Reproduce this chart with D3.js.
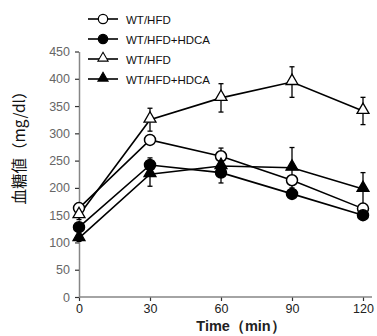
<!DOCTYPE html>
<html>
<head>
<meta charset="utf-8">
<script src="https://cdn.jsdelivr.net/npm/d3@7"></script>
<style>
  body { margin: 0; background: #fff; }
  svg { font-family: Arial, "Liberation Sans", sans-serif; }
</style>
</head>
<body>
<svg id="chart" width="377" height="336"></svg>
<script>
// data
const times = [0, 30, 60, 90, 120];
const yTicks = [0, 50, 100, 150, 200, 250, 300, 350, 400, 450];
const seriesNames = ["WT/HFD", "WT/HFD+HDCA", "WT/HFD", "WT/HFD+HDCA"];
const seriesShapes = ["circle", "circle", "triangle", "triangle"];
const seriesFilled = [false, true, false, true];
const openCircleMean = [163, 288, 258, 214, 162];
const openCircleErr = [6, 8, 15, 8, 6];
const filledCircleMean = [128, 242, 228, 189, 150];
const filledCircleErr = [6, 13, 19, 6, 6];
const openTriMean = [150, 325, 365, 394, 341];
const openTriErr = [8, 21, 26, 28, 25];
const filledTriMean = [108, 225, 240, 237, 198];
const filledTriErr = [6, 22, 10, 37, 30];

const means = [openCircleMean, filledCircleMean, openTriMean, filledTriMean];
const errs = [openCircleErr, filledCircleErr, openTriErr, filledTriErr];

const svg = d3.select("#chart");
const axisColor = "#868686";

const x = d3.scaleLinear().domain([0, 120]).range([79, 363]);
const y = d3.scaleLinear().domain([0, 450]).range([297, 51.5]);

// axes
const xAxis = svg.append("g")
    .attr("transform", `translate(0, ${y(0)})`)
    .call(d3.axisBottom(x).tickValues(times).tickSize(4).tickSizeOuter(0).tickPadding(3));
xAxis.select(".domain").remove();
xAxis.append("line")
    .attr("x1", x(0)).attr("x2", 372)
    .attr("stroke", axisColor).attr("stroke-width", 1.5);

const yAxis = svg.append("g")
    .attr("transform", `translate(${x(0)}, 0)`)
    .call(d3.axisLeft(y).tickValues(yTicks).tickSize(4).tickSizeOuter(0).tickPadding(5));
yAxis.select(".domain").attr("stroke", axisColor).attr("stroke-width", 1.5);

svg.selectAll(".tick line").attr("stroke", "#333").attr("stroke-width", 1.2);
xAxis.selectAll(".tick text").attr("font-size", 12.5).attr("fill", "#222");
yAxis.selectAll(".tick text").attr("font-size", 12.5).attr("fill", "#666");

// axis titles
svg.append("text")
    .attr("x", 241).attr("y", 331)
    .attr("text-anchor", "middle")
    .attr("font-size", 14.5).attr("font-weight", "bold")
    .attr("fill", "#222")
    .text("Time（min）");

svg.append("text")
    .attr("transform", "translate(25, 144) rotate(-90)")
    .attr("text-anchor", "middle")
    .attr("font-size", 15.5)
    .attr("font-family", "'Noto Sans CJK JP', sans-serif")
    .attr("fill", "#111")
    .text("血糖値（mg/dl）");

const line = d3.line().x((d, i) => x(times[i])).y(d => y(d));

const triangle = d3.symbol().type(d3.symbolTriangle).size(62);

function drawMarker(g, shape, filled) {
    if (shape === "circle") {
        g.append("circle").attr("r", 5.5)
            .attr("fill", filled ? "#000" : "#fff")
            .attr("stroke", "#000").attr("stroke-width", 1.5);
    } else {
        g.append("path").attr("d", triangle).attr("transform", "translate(0,-1)")
            .attr("fill", filled ? "#000" : "#fff")
            .attr("stroke", "#000").attr("stroke-width", 1.3);
    }
}

// series: error bars, then lines, then markers
means.forEach((m, s) => {
    const g = svg.append("g");
    g.selectAll("g.err")
        .data(m)
        .enter()
        .append("g")
        .each(function (d, i) {
            const e = errs[s][i];
            const gg = d3.select(this);
            gg.append("line")
                .attr("x1", x(times[i])).attr("x2", x(times[i]))
                .attr("y1", y(d - e)).attr("y2", y(d + e))
                .attr("stroke", "#000").attr("stroke-width", 1.3);
            [d - e, d + e].forEach(v => {
                gg.append("line")
                    .attr("x1", x(times[i]) - 2.5).attr("x2", x(times[i]) + 2.5)
                    .attr("y1", y(v)).attr("y2", y(v))
                    .attr("stroke", "#000").attr("stroke-width", 1.3);
            });
        });
    g.append("path")
        .attr("d", line(m))
        .attr("fill", "none")
        .attr("stroke", "#000")
        .attr("stroke-width", 1.6);
});
means.forEach((m, s) => {
    svg.append("g").selectAll("g")
        .data(m)
        .enter()
        .append("g")
        .attr("transform", (d, i) => `translate(${x(times[i])}, ${y(d)})`)
        .each(function () { drawMarker(d3.select(this), seriesShapes[s], seriesFilled[s]); });
});

// legend
const legend = svg.append("g");
seriesNames.forEach((name, i) => {
    const ly = 19 + i * 20;
    const lg = legend.append("g").attr("transform", `translate(0, ${ly})`);
    lg.append("line").attr("x1", 88).attr("x2", 118).attr("y1", 0).attr("y2", 0)
        .attr("stroke", "#000").attr("stroke-width", 1.6);
    const mk = lg.append("g");
    drawMarker(mk, seriesShapes[i], seriesFilled[i]);
    mk.attr("transform", "translate(103, 0) scale(0.85)");
    lg.append("text").attr("x", 126).attr("y", 4.5)
        .attr("font-size", 11.5).attr("fill", "#111")
        .text(name);
});
</script>
</body>
</html>
